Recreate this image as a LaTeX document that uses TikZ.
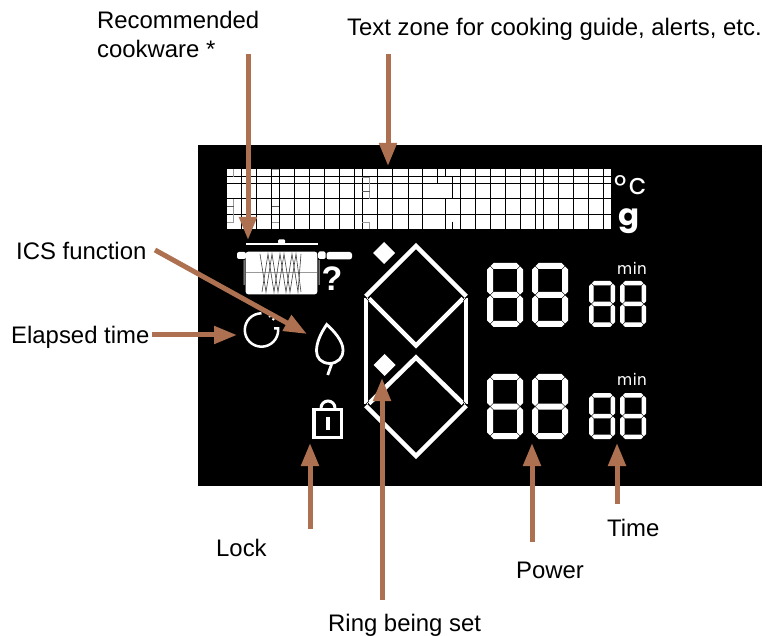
\documentclass[tikz,border=0pt]{standalone}
\usepackage{fontspec}
\setmainfont{Liberation Sans}
\newfontfamily\popfont{Poppins}
\newfontfamily\dvfont{DejaVu Sans}
\usetikzlibrary{arrows.meta}
\definecolor{arrowbrown}{HTML}{AD7152}
\tikzset{
  lbl/.style={inner sep=0pt,anchor=base west,font=\fontsize{23.9}{28}\selectfont,text=black},
  callout/.style={draw=arrowbrown,line width=5pt,-{Triangle[width=17pt,length=23pt]},shorten >=0pt},
  gridline/.style={draw=black,line width=1pt},
  faint/.style={draw=black!40,line width=0.8pt},
  midgray/.style={draw=black!65,line width=1pt},
  coil/.style={draw=black!75,line width=0.6pt},
  ringbar/.style={draw=white,line width=4.5pt,line cap=butt},
  cutline/.style={draw=black,line width=0.7pt},
  seg/.style={fill=white,draw=none},
  minlabel/.style={inner sep=0pt,text=white,font=\dvfont\fontsize{16}{18}\selectfont}
}
% horizontal segment: x1,x2,y,t
\newcommand\hsegm[4]{\fill[seg] (#1,#3) -- (#1+#4/2,#3-#4/2) -- (#2-#4/2,#3-#4/2) -- (#2,#3) -- (#2-#4/2,#3+#4/2) -- (#1+#4/2,#3+#4/2) -- cycle;}
% vertical segment: x,y1,y2,t
\newcommand\vsegm[4]{\fill[seg] (#1,#2) -- (#1+#4/2,#2+#4/2) -- (#1+#4/2,#3-#4/2) -- (#1,#3) -- (#1-#4/2,#3-#4/2) -- (#1-#4/2,#2+#4/2) -- cycle;}
% digit: x,y,w,h,t
\newcommand\digitLCD[5]{%
  \pgfmathsetmacro\xa{#1+#5/2}\pgfmathsetmacro\xb{#1+#3-#5/2}%
  \pgfmathsetmacro\ya{#2+#5/2}\pgfmathsetmacro\yb{#2+#4/2}\pgfmathsetmacro\yc{#2+#4-#5/2}%
  \hsegm{\xa+0.5}{\xb-0.5}{\ya}{#5}\hsegm{\xa+0.5}{\xb-0.5}{\yb}{#5}\hsegm{\xa+0.5}{\xb-0.5}{\yc}{#5}%
  \vsegm{\xa}{\ya+0.5}{\yb-0.5}{#5}\vsegm{\xb}{\ya+0.5}{\yb-0.5}{#5}%
  \vsegm{\xa}{\yb+0.5}{\yc-0.5}{#5}\vsegm{\xb}{\yb+0.5}{\yc-0.5}{#5}}
\begin{document}
\begin{tikzpicture}[x=1pt,y=-1pt]
\useasboundingbox (0,0) rectangle (766,636);
\fill[white] (0,0) rectangle (766,636);
\fill[black] (198,145) rectangle (762,486);
% text grid
\fill[white] (227,169) rectangle (611,229);
\foreach \v in {241.3,256.3,271.3,279.7,294.7,309.7,324.7,339.7,354.7,362,377.3,392.7,408,422.5,460,475,490,505,520,535,543.3,558.3,573.3,588.3,603.3}
  \draw[gridline] (\v,169) -- (\v,229);
\foreach \h in {176.7,184,199,214.3}
  \draw[gridline] (227,\h) -- (611,\h);
\draw[gridline] (437.3,169) -- (437.3,184);
\draw[gridline] (445,169) -- (445,177) (445,199) -- (445,229);
\draw[gridline] (452.3,177) -- (452.3,199) (452.3,222) -- (452.3,229);
\draw[faint] (233.5,169) -- (233.5,176.7);
\draw[faint] (233.5,199) -- (233.5,222) -- (227,222);
\draw[faint] (272,169.4) -- (279,169.4) (272,222)--(279,222);
\draw[faint] (362,177) -- (369.5,177) -- (369.5,199) (362,222) -- (369.5,222) -- (369.5,229);
\draw[midgray] (227,207) -- (233.5,207) (272,207) -- (279,207) (362,192) -- (369.5,192);
% unit symbols
\node[inner sep=0pt,text=white,font=\popfont\fontsize{30}{32}\selectfont] (deg) at (621,186) {°};
\node[inner sep=0pt,text=white,font=\popfont\fontsize{29}{30}\selectfont] (cc) at (637.5,186.5) {c};
\node[inner sep=0pt,text=white,xscale=1.15,yscale=1.1,font=\popfont\bfseries\fontsize{27}{30}\selectfont] (gg) at (629.5,221) {g};
% cookware
\fill[white] (246,243) rectangle (317.5,245.5);
\fill[white,rounded corners=1pt] (278,239.5) rectangle (285,243.5);
\fill[white,rounded corners=2pt] (237,252) rectangle (246,259);
\fill[white,rounded corners=1.5pt] (318,251.5) rectangle (325.5,259);
\fill[white,rounded corners=2.5pt] (326.5,252) rectangle (352,259.5);
\fill[white,rounded corners=2.5pt] (245.7,251.7) rectangle (317.3,294.3);
\draw[black!40,line width=0.6pt] (245.7,272.5) -- (317.3,272.5);
\fill[black!30] (243.5,260) rectangle (244.7,285) (318.5,260) rectangle (319.7,285);
\draw[coil] (260,254) -- (266,292) -- (272,254) -- (278,292) -- (284,254) -- (290,292) -- (296,254) -- (301,292);
\draw[coil] (262,292) -- (268,254) -- (274,292) -- (280,254) -- (286,292) -- (292,254) -- (298,292) -- (301,254);
\node[inner sep=0pt,text=white,font=\bfseries\fontsize{34}{36}\selectfont] (qm) at (332,279) {?};
% elapsed time icon
\draw[white,line width=2.5pt] (261.5,313.3) arc[start angle=-90,end angle=-360,radius=16.7] -- ++(0,-1.5) -- ++(-4,0);
\draw[white,line width=2pt] (269,316) -- (270.5,316.8) (272.5,318.5) -- (274,320);
% drop
\draw[white,line width=2.8pt] (326.7,324.5) .. controls (321,333) and (316.5,342) .. (316.5,351) .. controls (316.5,358) and (321,363) .. (329.5,363.5) .. controls (338,363) and (343,358) .. (343,350) .. controls (343,341) and (334,331) .. cycle;
\draw[white,line width=2.8pt] (331.7,364) -- (327.7,375);
% lock
\draw[white,line width=3.4pt] (314,409.7) rectangle (341.6,437.6);
\draw[white,line width=3pt] (321,408) arc[start angle=180,end angle=360,radius=7];
\fill[white] (326,417) rectangle (330,430);
% ring diamonds
\fill[white] (384,242) -- (395,253) -- (384,264) -- (373,253) -- cycle;
\fill[white] (384.5,354) -- (395.5,365) -- (384.5,376) -- (373.5,365) -- cycle;
\draw[ringbar] (366,298) -- (366,404);
\draw[ringbar] (466,298) -- (466,404);
\draw[ringbar] (369,298.5) -- (416,345.5) -- (463,298.5);
\draw[ringbar] (369,403.5) -- (416,357.5) -- (463,403.5);
\draw[ringbar] (365.7,296.3) -- (416,246) -- (466.3,296.3);
\draw[ringbar] (365.7,405.7) -- (416,456) -- (466.3,405.7);
\draw[cutline] (363,295) -- (369,301) (469,295) -- (463,301);
\draw[cutline] (363,407) -- (369,401) (469,407) -- (463,401);
% digits
\digitLCD{487}{263}{36}{64}{6}
\digitLCD{532}{263}{36}{64}{6}
\digitLCD{487}{374}{36}{65}{6}
\digitLCD{532}{374}{36}{65}{6}
\digitLCD{589}{281}{26}{46}{4.5}
\digitLCD{620}{281}{26}{46}{4.5}
\digitLCD{589}{393}{26}{46}{4.5}
\digitLCD{620}{393}{26}{46}{4.5}
\node[minlabel] (min1) at (632,268) {min};
\node[minlabel] (min2) at (632,379) {min};
% labels
\node[lbl] (rc) at (97,28.5) {Recommended};
\node[lbl] (ck) at (97,57.5) {cookware *};
\node[lbl] (tz) at (347,35.5) {Text zone for cooking guide, alerts, etc.};
\node[lbl] (ics) at (16,260) {ICS function};
\node[lbl] (el) at (11,343.5) {Elapsed time};
\node[lbl] (lk) at (216,556) {Lock};
\node[lbl] (pw) at (516,578) {Power};
\node[lbl] (tm) at (607,536) {Time};
\node[lbl] (rg) at (328,631) {Ring being set};
% callouts
\coordinate (a1s) at (248,54); \coordinate (a1e) at (248,240);
\coordinate (a2s) at (388,54); \coordinate (a2e) at (388,166);
\coordinate (a3s) at (155,250); \coordinate (a3e) at (307,334);
\coordinate (a4s) at (152,335); \coordinate (a4e) at (237,335);
\coordinate (a5s) at (310,529); \coordinate (a5e) at (310,443);
\coordinate (a6s) at (382,600); \coordinate (a6e) at (382,378);
\coordinate (a7s) at (532,542); \coordinate (a7e) at (532,443);
\coordinate (a8s) at (617,504); \coordinate (a8e) at (617,443);
\foreach \n in {1,...,8} \draw[callout] (a\n s) -- (a\n e);
\end{tikzpicture}
\end{document}
